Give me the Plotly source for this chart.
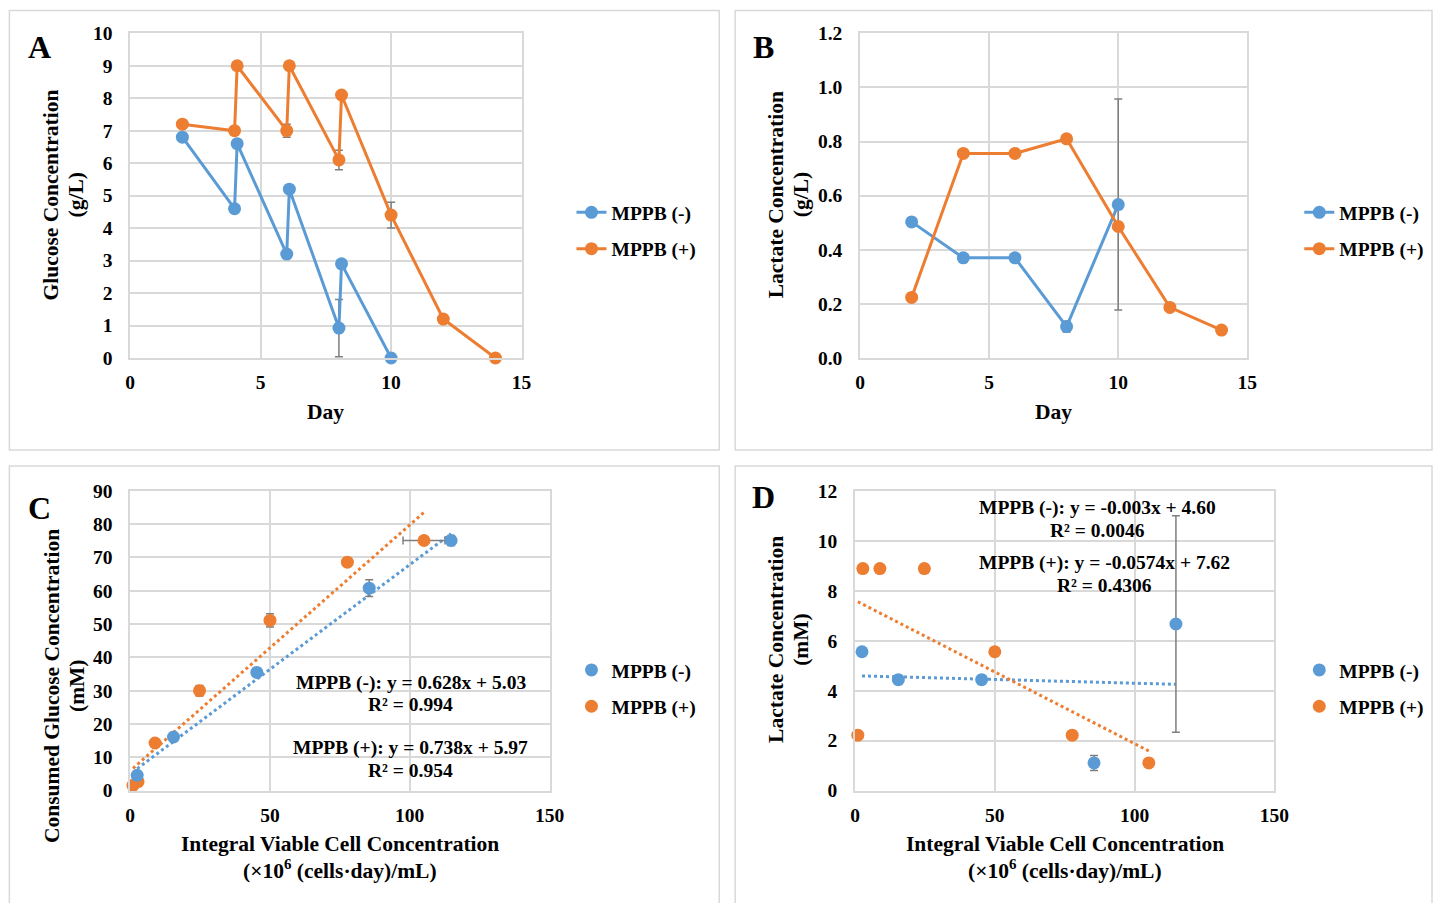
import plotly.graph_objects as go
import numpy as np

# ---------------- data ----------------
A_day_neg = [2, 4, 4.1, 6, 6.1, 8, 8.1, 10]
A_glc_neg = [6.8, 4.6, 6.6, 3.2, 5.2, 0.92, 2.9, 0.0]
A_err_neg = [0, 0, 0, 0, 0, 0.88, 0, 0]
A_day_pos = [2, 4, 4.1, 6, 6.1, 8, 8.1, 10, 12, 14]
A_glc_pos = [7.2, 7.0, 9.0, 7.0, 9.0, 6.1, 8.1, 4.4, 1.2, 0.0]
A_err_pos = [0, 0, 0, 0.2, 0, 0.3, 0, 0.4, 0, 0]

B_day_neg = [2, 4, 6, 8, 10]
B_lac_neg = [0.503, 0.37, 0.37, 0.116, 0.567]
B_err_neg = [0, 0, 0, 0.02, 0.39]
B_day_pos = [2, 4, 6, 8, 10, 12, 14]
B_lac_pos = [0.224, 0.756, 0.756, 0.81, 0.486, 0.187, 0.103]

ivcc_neg = [2.5, 15.5, 45.3, 85.5, 114.8]
ivcc_pos = [1.0, 2.8, 8.9, 24.8, 50.0, 77.7, 105.1]
C_glc_neg = [4.6, 16.1, 35.5, 60.8, 75.1]
C_err_neg = [0.5, 0.3, 0.3, 2.5, 1.5]
C_glc_pos = [1.6, 2.7, 14.3, 30.0, 51.1, 68.6, 75.1]
C_err_pos = [0, 0, 0.3, 1.6, 2.0, 0.3, 0.3]
C_xerr_pos = [0, 0, 0, 0, 0, 0, 7.5]
D_lac_neg = [5.56, 4.44, 4.44, 1.11, 6.67]
D_err_neg = [0, 0, 0, 0.3, 4.33]
D_lac_pos = [2.22, 8.89, 8.89, 8.89, 5.56, 2.22, 1.11]

C_fit_neg = (0.628, 5.03)
C_fit_pos = (0.738, 5.97)
D_fit_neg = (-0.003, 4.60)
D_fit_pos = (-0.0574, 7.62)

names = ["MPPB (-)", "MPPB (+)"]

# ---------------- style ----------------
BLUE = "#5B9BD5"
ORANGE = "#ED7D31"
GRID = "#D9D9D9"
ERRC = "#7F7F7F"
FONT = "Liberation Serif"
W, H = 1448, 903
MS = 13


def px(x):
    p = (x - 3.6) / 0.9878
    return min(max(p, 0.5), W - 1) / W


def py(y):
    p = (y - 9.7) / 0.9776
    return 1 - min(max(p, 0.5), H + 20) / H


def err(arr, visible=True):
    return dict(type="data", array=arr, visible=visible, color=ERRC, thickness=1.5, width=4)


fig = go.Figure()

# Panel A
fig.add_trace(go.Scatter(x=A_day_neg, y=A_glc_neg, name=names[0], mode="lines+markers",
                         line=dict(color=BLUE, width=3), marker=dict(size=MS, color=BLUE),
                         error_y=err(A_err_neg), xaxis="x", yaxis="y", legend="legend",
                         legendgroup="A1", cliponaxis=False))
fig.add_trace(go.Scatter(x=A_day_pos, y=A_glc_pos, name=names[1], mode="lines+markers",
                         line=dict(color=ORANGE, width=3), marker=dict(size=MS, color=ORANGE),
                         error_y=err(A_err_pos), xaxis="x", yaxis="y", legend="legend",
                         legendgroup="A2", cliponaxis=False))
# Panel B
fig.add_trace(go.Scatter(x=B_day_neg, y=B_lac_neg, name=names[0], mode="lines+markers",
                         line=dict(color=BLUE, width=3), marker=dict(size=MS, color=BLUE),
                         error_y=err(B_err_neg), xaxis="x2", yaxis="y2", legend="legend2",
                         legendgroup="B1", cliponaxis=False))
fig.add_trace(go.Scatter(x=B_day_pos, y=B_lac_pos, name=names[1], mode="lines+markers",
                         line=dict(color=ORANGE, width=3), marker=dict(size=MS, color=ORANGE),
                         xaxis="x2", yaxis="y2", legend="legend2", legendgroup="B2",
                         cliponaxis=False))


def fit_line(xs, coef):
    xx = np.array([min(xs), max(xs)])
    return xx, coef[0] * xx + coef[1]


# Panel C
for xs, coef, col in [(ivcc_neg, C_fit_neg, BLUE), (ivcc_pos, C_fit_pos, ORANGE)]:
    fx, fy = fit_line(xs, coef)
    fig.add_trace(go.Scatter(x=fx, y=fy, mode="lines", line=dict(color=col, width=3, dash="dot"),
                             showlegend=False, hoverinfo="skip", xaxis="x3", yaxis="y3"))
fig.add_trace(go.Scatter(x=ivcc_pos, y=C_glc_pos, name=names[1], mode="markers",
                         marker=dict(size=MS, color=ORANGE), error_y=err(C_err_pos),
                         error_x=err(C_xerr_pos), xaxis="x3", yaxis="y3", legend="legend3",
                         cliponaxis=False, showlegend=False))
fig.add_trace(go.Scatter(x=ivcc_neg, y=C_glc_neg, name=names[0], mode="markers",
                         marker=dict(size=MS, color=BLUE), error_y=err(C_err_neg),
                         xaxis="x3", yaxis="y3", legend="legend3", legendgroup="C1",
                         cliponaxis=False))
fig.add_trace(go.Scatter(x=[None], y=[None], name=names[1], mode="markers",
                         marker=dict(size=MS, color=ORANGE), xaxis="x3", yaxis="y3",
                         legend="legend3", legendgroup="C2"))

# Panel D
for xs, coef, col in [(ivcc_neg, D_fit_neg, BLUE), (ivcc_pos, D_fit_pos, ORANGE)]:
    fx, fy = fit_line(xs, coef)
    fig.add_trace(go.Scatter(x=fx, y=fy, mode="lines", line=dict(color=col, width=3, dash="dot"),
                             showlegend=False, hoverinfo="skip", xaxis="x4", yaxis="y4"))
fig.add_trace(go.Scatter(x=ivcc_neg, y=D_lac_neg, name=names[0], mode="markers",
                         marker=dict(size=MS, color=BLUE), error_y=err(D_err_neg),
                         xaxis="x4", yaxis="y4", legend="legend4", legendgroup="D1",
                         cliponaxis=False))
fig.add_trace(go.Scatter(x=ivcc_pos, y=D_lac_pos, name=names[1], mode="markers",
                         marker=dict(size=MS, color=ORANGE),
                         xaxis="x4", yaxis="y4", legend="legend4", legendgroup="D2",
                         cliponaxis=False))

tickfont = dict(family=FONT, size=19.5, color="#000000", weight="bold")


def xax(domain, anchor, rng, dtick):
    return dict(domain=domain, anchor=anchor, range=rng, dtick=dtick, tick0=0,
                showgrid=True, gridcolor=GRID, gridwidth=1.5, zeroline=False,
                showline=True, linecolor=GRID, linewidth=1.5, mirror=True,
                ticks="outside", ticklen=6, tickcolor="rgba(0,0,0,0)",
                tickfont=tickfont, fixedrange=True)


def yax(domain, anchor, rng, dtick, fmt=None):
    d = dict(domain=domain, anchor=anchor, range=rng, dtick=dtick, tick0=0,
             showgrid=True, gridcolor=GRID, gridwidth=1.5, zeroline=False,
             showline=True, linecolor=GRID, linewidth=1.5, mirror=True,
             ticks="outside", ticklen=12, tickcolor="rgba(0,0,0,0)",
             tickfont=tickfont, fixedrange=True)
    if fmt:
        d["tickformat"] = fmt
    return d


yA = [py(358), py(33)]
yC = [py(791), py(491)]
fig.update_layout(
    xaxis=xax([px(129), px(521)], "y", [0, 15], 5),
    yaxis=yax(yA, "x", [0, 10], 1),
    xaxis2=xax([px(860), px(1248)], "y2", [0, 15], 5),
    yaxis2=yax(yA, "x2", [0, 1.2], 0.2, ".1f"),
    xaxis3=xax([px(129), px(549)], "y3", [0, 150], 50),
    yaxis3=yax(yC, "x3", [0, 90], 10),
    xaxis4=xax([px(855), px(1275)], "y4", [0, 150], 50),
    yaxis4=yax(yC, "x4", [0, 12], 2),
)

legfont = dict(family=FONT, size=19.5, color="#000000", weight="bold")
leg_common = dict(font=legfont, bgcolor="rgba(0,0,0,0)", xanchor="left", yanchor="top",
                  tracegroupgap=8, itemwidth=30)
fig.update_layout(
    legend=dict(x=px(571), y=py(193), **leg_common),
    legend2=dict(x=px(1300), y=py(193), **leg_common),
    legend3=dict(x=px(571), y=py(651), **leg_common),
    legend4=dict(x=px(1300), y=py(651), **leg_common),
)

# panel boxes
shapes = []
for (x0, y0, x1, y1) in [(8, 8, 719, 450), (735, 8, 1445, 450), (8, 466, 719, 906), (735, 466, 1445, 906)]:
    shapes.append(dict(type="rect", xref="paper", yref="paper", x0=px(x0), x1=px(x1),
                       y0=py(y1), y1=py(y0), line=dict(color=GRID, width=1.5)))

ann = []


def text(x, y, s, size=21.5, angle=0):
    ann.append(dict(x=px(x), y=py(y), xref="paper", yref="paper", text=s, showarrow=False,
                    textangle=angle, xanchor="center", yanchor="middle",
                    font=dict(family=FONT, size=size, color="#000000", weight="bold")))


for lab, (x, y) in zip("ABCD", [(38, 47), (763, 47), (38, 508), (763, 497)]):
    text(x, y, lab, size=32)

# y-axis titles
text(50, 195, "Glucose Concentration", angle=-90)
text(75, 195, "(g/L)", angle=-90)
text(776, 195, "Lactate Concentration", angle=-90)
text(801, 195, "(g/L)", angle=-90)
text(50, 686, "Consumed Glucose Concentration", angle=-90)
text(75, 686, "(mM)", angle=-90)
text(776, 640, "Lactate Concentration", angle=-90)
text(801, 640, "(mM)", angle=-90)
# x-axis titles
text(325, 412, "Day")
text(1054, 412, "Day")
for cx in (339, 1065):
    text(cx, 844, "Integral Viable Cell Concentration")
    text(cx, 870, "(×10<sup>6</sup> (cells·day)/mL)")

# trendline equations
EQ = 19.5
text(410, 683, "MPPB (-): y = 0.628x + 5.03", size=EQ)
text(410, 705, "R² = 0.994", size=EQ)
text(410, 748, "MPPB (+): y = 0.738x + 5.97", size=EQ)
text(410, 771, "R² = 0.954", size=EQ)
text(1098, 508, "MPPB (-): y = -0.003x + 4.60", size=EQ)
text(1098, 531, "R² = 0.0046", size=EQ)
text(1105, 563, "MPPB (+): y = -0.0574x + 7.62", size=EQ)
text(1105, 586, "R² = 0.4306", size=EQ)

fig.update_layout(width=W, height=H, margin=dict(l=0, r=0, t=0, b=0),
                  paper_bgcolor="white", plot_bgcolor="white",
                  shapes=shapes, annotations=ann)

fig.write_html("out.html", config={"displayModeBar": False},
               post_script="document.body.style.margin='0';document.body.style.overflow='hidden';")
